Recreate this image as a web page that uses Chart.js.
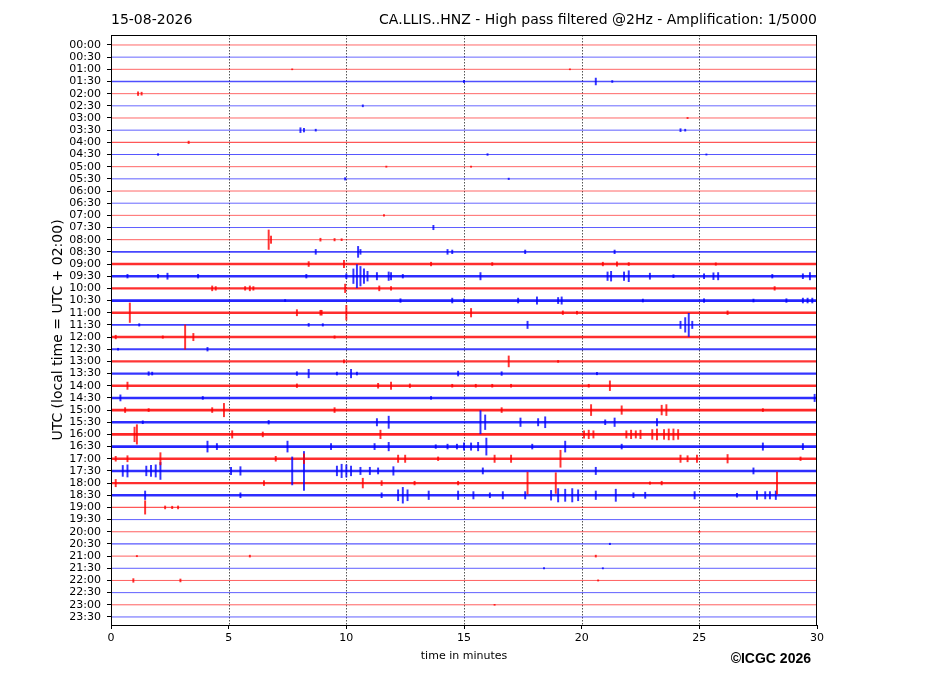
<!DOCTYPE html>
<html>
<head>
<meta charset="utf-8">
<title>CA.LLIS..HNZ helicorder</title>
<script src="https://cdn.jsdelivr.net/npm/chart.js@4.4.1/dist/chart.umd.min.js"></script>
<style>
  html, body { margin: 0; padding: 0; background: #fff; }
  #wrap { width: 927px; height: 696px; }
</style>
</head>
<body>
<div id="wrap"><canvas id="heli"></canvas></div>
<script>
// One trace per half hour, 30 minutes long each
const hours = [
    '00:00', '00:30', '01:00', '01:30', '02:00', '02:30', '03:00', '03:30',
    '04:00', '04:30', '05:00', '05:30', '06:00', '06:30', '07:00', '07:30',
    '08:00', '08:30', '09:00', '09:30', '10:00', '10:30', '11:00', '11:30',
    '12:00', '12:30', '13:00', '13:30', '14:00', '14:30', '15:00', '15:30',
    '16:00', '16:30', '17:00', '17:30', '18:00', '18:30', '19:00', '19:30',
    '20:00', '20:30', '21:00', '21:30', '22:00', '22:30', '23:00', '23:30'
];
const minuteTicks = [0, 5, 10, 15, 20, 25, 30];

// background noise half-amplitude per trace (in trace spacings)
const noise = [
    0.03, 0.03, 0.03, 0.06, 0.03, 0.03, 0.03, 0.04,
    0.05, 0.05, 0.03, 0.04, 0.03, 0.03, 0.03, 0.04,
    0.04, 0.07, 0.10, 0.10, 0.10, 0.11, 0.10, 0.08,
    0.10, 0.08, 0.09, 0.09, 0.10, 0.10, 0.11, 0.10,
    0.11, 0.11, 0.10, 0.10, 0.10, 0.10, 0.05, 0.04,
    0.04, 0.05, 0.04, 0.04, 0.04, 0.04, 0.04, 0.04
];

// bursts per trace: [minute, half-amplitude in trace spacings]
const events = [
    [],
    [],
    [[7.7, 0.04], [19.5, 0.04]],
    [[15.0, 0.1], [20.6, 0.28], [21.3, 0.08]],
    [[1.15, 0.15], [1.3, 0.12]],
    [[10.7, 0.08]],
    [[24.5, 0.05]],
    [[8.05, 0.2], [8.2, 0.15], [8.7, 0.08], [24.2, 0.12], [24.4, 0.08]],
    [[3.3, 0.1]],
    [[2.0, 0.07], [16.0, 0.07], [25.3, 0.05]],
    [[11.7, 0.05], [15.3, 0.05]],
    [[9.95, 0.1], [16.9, 0.06]],
    [],
    [],
    [[11.6, 0.07]],
    [[13.7, 0.18]],
    [[6.7, 0.8], [6.8, 0.3], [8.9, 0.12], [9.5, 0.1], [9.8, 0.08]],
    [[8.7, 0.2], [10.5, 0.45], [10.6, 0.2], [14.3, 0.2], [14.5, 0.15], [17.6, 0.15], [21.4, 0.15]],
    [[8.4, 0.2], [9.9, 0.3], [13.6, 0.15], [16.2, 0.12], [20.9, 0.15], [21.5, 0.18], [22.0, 0.12], [25.7, 0.1]],
    [[0.7, 0.15], [2.0, 0.15], [2.4, 0.25], [3.7, 0.15], [8.3, 0.15], [10.0, 0.2], [10.3, 0.6],
     [10.45, 0.95], [10.6, 0.8], [10.75, 0.6], [10.9, 0.4], [11.3, 0.3], [11.8, 0.35], [11.9, 0.3],
     [12.4, 0.15], [15.7, 0.3], [21.1, 0.35], [21.25, 0.4], [21.8, 0.35], [22.0, 0.45], [22.9, 0.25],
     [23.9, 0.12], [25.2, 0.2], [25.6, 0.28], [25.8, 0.3], [28.1, 0.15], [29.4, 0.2], [29.7, 0.3]],
    [[4.3, 0.2], [4.45, 0.15], [5.7, 0.15], [5.9, 0.2], [6.05, 0.15], [9.95, 0.35], [11.4, 0.2],
     [11.9, 0.15], [28.2, 0.15]],
    [[7.4, 0.08], [12.3, 0.15], [14.5, 0.2], [15.0, 0.15], [17.3, 0.2], [18.1, 0.3], [19.0, 0.25],
     [19.15, 0.3], [22.6, 0.12], [25.2, 0.15], [27.3, 0.12], [28.7, 0.15], [29.4, 0.2], [29.6, 0.2], [29.8, 0.2]],
    [[0.8, 0.8], [7.9, 0.25], [8.9, 0.2], [8.95, 0.2], [10.0, 0.6], [15.3, 0.35], [19.2, 0.15],
     [19.8, 0.12], [26.2, 0.15]],
    [[1.2, 0.1], [8.4, 0.12], [9.0, 0.1], [17.7, 0.3], [24.2, 0.3], [24.4, 0.6], [24.55, 0.95], [24.7, 0.3]],
    [[0.2, 0.15], [2.2, 0.1], [3.15, 1.0], [3.5, 0.3], [9.5, 0.1]],
    [[0.3, 0.08], [4.1, 0.15]],
    [[9.9, 0.12], [16.9, 0.45], [19.0, 0.08]],
    [[1.6, 0.15], [1.75, 0.12], [7.9, 0.15], [8.4, 0.35], [9.6, 0.12], [10.2, 0.35], [10.45, 0.12],
     [14.75, 0.2], [16.6, 0.15], [20.65, 0.1]],
    [[0.7, 0.3], [7.9, 0.15], [11.35, 0.2], [11.9, 0.3], [12.7, 0.15], [14.5, 0.12], [15.5, 0.12],
     [16.2, 0.12], [17.0, 0.12], [20.3, 0.12], [21.2, 0.4]],
    [[0.4, 0.25], [3.9, 0.12], [13.6, 0.12], [29.9, 0.3]],
    [[0.6, 0.2], [1.6, 0.12], [4.3, 0.2], [4.8, 0.55], [9.5, 0.2], [16.6, 0.2], [20.4, 0.45],
     [21.7, 0.35], [23.4, 0.4], [23.6, 0.45], [27.7, 0.12]],
    [[1.35, 0.12], [6.7, 0.15], [11.3, 0.3], [11.8, 0.5], [15.7, 0.95], [15.9, 0.6], [17.4, 0.35],
     [18.15, 0.3], [18.45, 0.45], [21.0, 0.2], [21.4, 0.35], [23.2, 0.3]],
    [[1.0, 0.6], [1.1, 0.8], [5.15, 0.3], [6.45, 0.2], [11.45, 0.35], [20.1, 0.3], [20.3, 0.35],
     [20.5, 0.3], [21.9, 0.3], [22.1, 0.35], [22.3, 0.3], [22.5, 0.35], [23.0, 0.4], [23.2, 0.45],
     [23.5, 0.4], [23.7, 0.45], [23.9, 0.45], [24.1, 0.4]],
    [[4.1, 0.45], [4.5, 0.25], [7.5, 0.45], [9.35, 0.25], [11.2, 0.25], [11.8, 0.35], [13.8, 0.15],
     [14.3, 0.2], [14.7, 0.2], [15.0, 0.3], [15.3, 0.3], [15.6, 0.35], [15.95, 0.7], [17.9, 0.2],
     [19.3, 0.45], [21.7, 0.2], [27.7, 0.3], [29.4, 0.25]],
    [[0.2, 0.2], [0.7, 0.25], [2.1, 0.5], [7.0, 0.2], [8.2, 0.4], [12.2, 0.3], [12.5, 0.3], [13.9, 0.15],
     [16.3, 0.3], [17.0, 0.3], [19.1, 0.7], [24.2, 0.3], [24.5, 0.25], [24.9, 0.3], [26.2, 0.35], [29.3, 0.15]],
    [[0.5, 0.45], [0.7, 0.5], [1.5, 0.4], [1.7, 0.45], [1.9, 0.5], [2.1, 0.7], [5.1, 0.3], [5.5, 0.35],
     [7.7, 1.15], [8.2, 1.6], [9.6, 0.4], [9.8, 0.55], [10.0, 0.5], [10.2, 0.4], [10.6, 0.3], [11.0, 0.3],
     [11.35, 0.25], [12.0, 0.35], [15.8, 0.25], [20.6, 0.3], [27.3, 0.25]],
    [[0.2, 0.3], [6.5, 0.2], [10.7, 0.4], [11.5, 0.2], [12.9, 0.15], [14.75, 0.15], [17.7, 0.9],
     [18.9, 0.85], [22.9, 0.1], [23.4, 0.15], [28.3, 0.9]],
    [[1.45, 0.35], [5.5, 0.2], [11.5, 0.2], [12.2, 0.45], [12.4, 0.65], [12.6, 0.45], [13.5, 0.35],
     [14.75, 0.35], [15.4, 0.3], [16.1, 0.2], [16.65, 0.3], [17.6, 0.3], [18.7, 0.4], [19.0, 0.55],
     [19.3, 0.5], [19.6, 0.55], [19.85, 0.45], [20.6, 0.35], [21.45, 0.5], [22.2, 0.2], [22.7, 0.25],
     [24.8, 0.3], [26.6, 0.15], [27.45, 0.35], [27.8, 0.3], [28.0, 0.3], [28.25, 0.35]],
    [[1.45, 0.55], [2.3, 0.12], [2.6, 0.1], [2.85, 0.12]],
    [],
    [[25.0, 0.04]],
    [[21.2, 0.06]],
    [[1.1, 0.05], [5.9, 0.08], [20.6, 0.08]],
    [[18.4, 0.05], [20.9, 0.05]],
    [[0.95, 0.15], [2.95, 0.12], [20.7, 0.05]],
    [],
    [[16.3, 0.04]],
    []
];

const PX_PER_TRACE = 12.17;

function traceColor(i, alpha) {
    return i % 2 === 0 ? 'rgba(255, 0, 0, ' + alpha + ')' : 'rgba(0, 0, 255, ' + alpha + ')';
}

const datasets = [];
hours.forEach(function (h, i) {
    datasets.push({
        type: 'line',
        label: h,
        data: [{ x: 0, y: i }, { x: 30, y: i }],
        borderColor: traceColor(i, Math.min(0.85, 0.5 + noise[i] * 3.2)),
        borderWidth: Math.max(1, noise[i] * 2 * PX_PER_TRACE),
        pointRadius: 0,
        order: 2,
    });
});

const redBursts = [];
const blueBursts = [];
events.forEach(function (list, i) {
    list.forEach(function (e) {
        const bar = { x: e[0], y: [i - e[1], i + e[1]] };
        (i % 2 === 0 ? redBursts : blueBursts).push(bar);
    });
});
datasets.push({
    type: 'bar', label: 'red', data: redBursts, grouped: false,
    backgroundColor: 'rgba(255, 0, 0, 0.8)', barThickness: 1.3, order: 1,
});
datasets.push({
    type: 'bar', label: 'blue', data: blueBursts, grouped: false,
    backgroundColor: 'rgba(0, 0, 255, 0.8)', barThickness: 1.3, order: 1,
});

const decor = {
    id: 'decor',
    beforeDatasetsDraw: function (chart) {
        const ctx = chart.ctx;
        const a = chart.chartArea;
        const xs = chart.scales.x;
        ctx.save();
        ctx.strokeStyle = '#555';
        ctx.lineWidth = 1;
        ctx.setLineDash([1.5, 1.5]);
        minuteTicks.slice(1, -1).forEach(function (m) {
            const px = Math.round(xs.getPixelForValue(m)) + 0.5;
            ctx.beginPath();
            ctx.moveTo(px, a.top);
            ctx.lineTo(px, a.bottom);
            ctx.stroke();
        });
        ctx.restore();
    },
    afterDraw: function (chart) {
        const ctx = chart.ctx;
        const a = chart.chartArea;
        ctx.save();
        ctx.strokeStyle = '#000';
        ctx.lineWidth = 1;
        ctx.strokeRect(a.left + 0.5, a.top + 0.5, a.right - a.left - 1, a.bottom - a.top);
        ctx.fillStyle = '#000';
        ctx.font = '14px "DejaVu Sans"';
        ctx.textBaseline = 'middle';
        ctx.textAlign = 'left';
        ctx.fillText('15-08-2026', a.left, 20);
        ctx.textAlign = 'right';
        ctx.fillText('CA.LLIS..HNZ - High pass filtered @2Hz - Amplification: 1/5000', a.right, 20);
        ctx.font = 'bold 14px "Liberation Sans"';
        ctx.fillText('\u00a9ICGC 2026', 811, 659);
        ctx.restore();
    },
};

new Chart(document.getElementById('heli'), {
    type: 'bar',
    data: { datasets: datasets },
    options: {
        responsive: true,
        maintainAspectRatio: false,
        animation: false,
        layout: { padding: { top: 35, right: 110, bottom: 29, left: 50 } },
        plugins: {
            legend: { display: false },
            tooltip: { enabled: false },
        },
        scales: {
            x: {
                type: 'linear',
                offset: false,
                min: 0,
                max: 30,
                afterBuildTicks: function (s) { s.ticks = minuteTicks.map(function (v) { return { value: v }; }); },
                afterFit: function (s) { s.height = 42; },
                ticks: { color: '#000', font: { family: 'DejaVu Sans', size: 11 }, padding: 3, maxRotation: 0 },
                grid: { drawOnChartArea: false, tickLength: 4, color: '#000', offset: false },
                border: { display: false },
                title: { display: true, text: 'time in minutes', color: '#000',
                         font: { family: 'DejaVu Sans', size: 11 }, padding: { top: 2, bottom: 4 } },
            },
            y: {
                type: 'linear',
                reverse: true,
                min: -0.82,
                max: 47.66,
                afterBuildTicks: function (s) { s.ticks = hours.map(function (h, i) { return { value: i }; }); },
                afterFit: function (s) { s.width = 61; },
                ticks: {
                    color: '#000', font: { family: 'DejaVu Sans', size: 11 }, padding: 6, autoSkip: false,
                    callback: function (v) { return hours[v]; },
                },
                grid: { drawOnChartArea: false, tickLength: 4, color: '#000' },
                border: { display: false },
                title: { display: true, text: 'UTC (local time = UTC + 02:00)', color: '#000',
                         font: { family: 'DejaVu Sans', size: 14 }, padding: { top: 0, bottom: 4 } },
            },
        },
    },
    plugins: [decor],
});
</script>
</body>
</html>
